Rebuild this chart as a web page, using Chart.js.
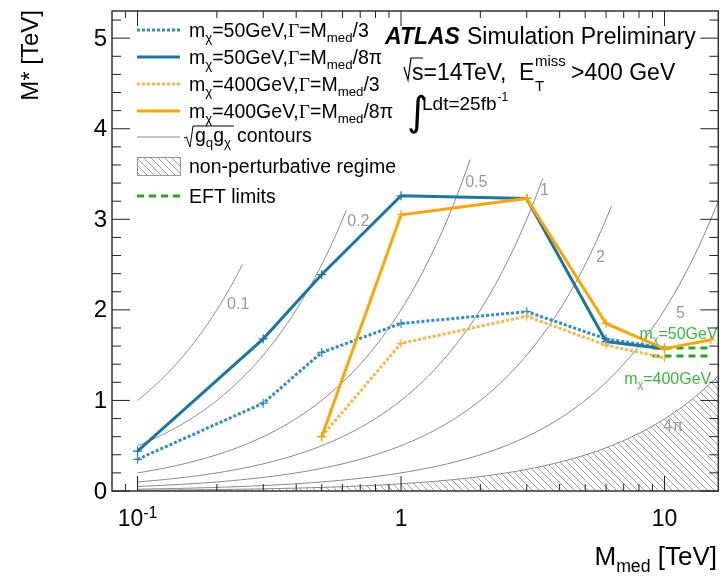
<!DOCTYPE html>
<html>
<head>
<meta charset="utf-8">
<script src="https://cdn.jsdelivr.net/npm/chart.js@4"></script>
<style>
html, body { margin: 0; padding: 0; background: #fff; }
#wrap { width: 724px; height: 579px; }
</style>
</head>
<body>
<div id="wrap"><canvas id="c" width="724" height="579"></canvas></div>
<script>
const FONT = '"Liberation Sans", Arial, Helvetica, sans-serif';

// mediator masses [TeV]
const mMedLight = [0.1, 0.3, 0.5, 1, 3, 6, 10];
const mMedHeavy = [0.5, 1, 3, 6, 10];
const mMedHeavyNarrow = [0.5, 1, 3, 6, 10, 15];

// M* limits [TeV]
const lightWide   = [0.35, 0.97, 1.53, 1.85, 1.98, 1.68, 1.58];
const lightNarrow = [0.44, 1.68, 2.39, 3.26, 3.23, 1.65, 1.57];
const heavyWide   = [0.60, 1.63, 1.93, 1.61, 1.47];
const heavyNarrow = [0.60, 3.05, 3.23, 1.85, 1.57, 1.67];

// EFT limits
const eftRange = [9, 15];
const eftLight = 1.58;
const eftHeavy = 1.49;

// sqrt(gq gchi) contours: M* = Mmed / g
const couplings     = [0.1, 0.2, 0.5, 1, 2, 5];
const couplingNames = ['0.1', '0.2', '0.5', '1', '2', '5', '4π'];
const contourEnd    = [0.25, 0.62, 1.83, 3.45, 6.3, 16];
const contourLabelX = [0.241, 0.689, 1.93, 3.50, 5.71, 11.5, 10.8];
const contourLabelY = [2.06, 2.97, 3.40, 3.32, 2.58, 1.96, 0.71];
const gMax = 4 * Math.PI;

// axis ticks
const xTicksMajor = [0.1, 1, 10];
const xTickLabels = [['10', '-1'], ['1', ''], ['10', '']];
const xTicksMinor = [0.09, 0.2, 0.3, 0.4, 0.5, 0.6, 0.7, 0.8, 0.9, 2, 3, 4, 5, 6, 7, 8, 9];
const yTicksMajor = [0, 1, 2, 3, 4, 5];
const yTicksMinor = [0.2, 0.4, 0.6, 0.8, 1.2, 1.4, 1.6, 1.8, 2.2, 2.4, 2.6, 2.8,
                     3.2, 3.4, 3.6, 3.8, 4.2, 4.4, 4.6, 4.8, 5.2];

const BLUE = '#1877a6', BLUE_DOT = '#2f8fc4';
const ORANGE = '#ffa500', ORANGE_DOT = '#ffb546';
const GREEN = '#1faa1f', GREEN_TXT = '#3cb83c';
const GRAY = '#8a8a8a';

const canvas = document.getElementById('c');
const ctx0 = canvas.getContext('2d');

// hatch pattern for the non-perturbative region
const pc = document.createElement('canvas');
pc.width = pc.height = 7;
const pctx = pc.getContext('2d');
pctx.strokeStyle = '#a0a0a0'; pctx.lineWidth = 1;
pctx.beginPath();
pctx.moveTo(-1, -1); pctx.lineTo(8, 8);
pctx.moveTo(-1, 6); pctx.lineTo(1, 8);
pctx.moveTo(6, -1); pctx.lineTo(8, 1);
pctx.stroke();
const hatch = ctx0.createPattern(pc, 'repeat');

function contourPoints(g, xEnd) {
  const pts = [], n = 60;
  for (let i = 0; i <= n; i++) {
    const m = 0.1 * Math.pow(xEnd / 0.1, i / n);
    pts.push({ x: m, y: m / g });
  }
  return pts;
}

function series(xs, ys, color, dotted, order) {
  return {
    data: xs.map((x, i) => ({ x, y: ys[i] })),
    borderColor: color, backgroundColor: color,
    borderWidth: 3, borderDash: dotted ? [3, 2] : [],
    pointStyle: 'cross', pointRadius: 4.5, pointBorderWidth: 1.2,
    pointBorderColor: color, fill: false, tension: 0, order
  };
}

const datasets = [
  series(mMedHeavyNarrow, heavyNarrow, ORANGE, false, 1),
  series(mMedHeavy, heavyWide, ORANGE_DOT, true, 2),
  series(mMedLight, lightNarrow, BLUE, false, 3),
  series(mMedLight, lightWide, BLUE_DOT, true, 4),
  { data: eftRange.map(x => ({ x, y: eftLight })), borderColor: GREEN, borderWidth: 3,
    borderDash: [7, 5], pointRadius: 0, fill: false, order: 5 },
  { data: eftRange.map(x => ({ x, y: eftHeavy })), borderColor: GREEN, borderWidth: 3,
    borderDash: [7, 5], pointRadius: 0, fill: false, order: 6 },
  ...couplings.map((g, i) => ({
    data: contourPoints(g, contourEnd[i]), borderColor: GRAY, borderWidth: 1,
    pointRadius: 0, fill: false, order: 10 + i
  })),
  { data: contourPoints(gMax, 16), borderColor: GRAY, borderWidth: 1, pointRadius: 0,
    fill: 'origin', backgroundColor: hatch, order: 30 }
];

// text with sub/superscripts: parts = [text, kind]
function rich(ctx, x, y, parts, size, color) {
  ctx.fillStyle = color; ctx.textAlign = 'left'; ctx.textBaseline = 'alphabetic';
  for (const [t, kind] of parts) {
    let s = size, dy = 0, f = FONT;
    if (kind === 'sub') { s = size * 0.68; dy = size * 0.28; }
    else if (kind === 'sup') { s = size * 0.68; dy = -size * 0.42; }
    else if (kind === 'serif') { f = '"Liberation Serif", serif'; }
    ctx.font = s + 'px ' + f;
    ctx.fillText(t, x, y + dy);
    x += ctx.measureText(t).width;
  }
  return x;
}

const legendRows = [
  { type: 'line', color: BLUE_DOT, dash: [3, 2], width: 3, text: [['m'], ['χ', 'sub'], ['=50GeV,'], ['Γ', 'serif'], ['=M'], ['med', 'sub'], ['/3']] },
  { type: 'line', color: BLUE, dash: [], width: 3, text: [['m'], ['χ', 'sub'], ['=50GeV,'], ['Γ', 'serif'], ['=M'], ['med', 'sub'], ['/8π']] },
  { type: 'line', color: ORANGE_DOT, dash: [3, 2], width: 3, text: [['m'], ['χ', 'sub'], ['=400GeV,'], ['Γ', 'serif'], ['=M'], ['med', 'sub'], ['/3']] },
  { type: 'line', color: ORANGE, dash: [], width: 3, text: [['m'], ['χ', 'sub'], ['=400GeV,'], ['Γ', 'serif'], ['=M'], ['med', 'sub'], ['/8π']] },
  { type: 'line', color: GRAY, dash: [], width: 1, text: null },
  { type: 'box', text: [['non-perturbative regime']] },
  { type: 'line', color: GREEN, dash: [7, 5], width: 3, text: [['EFT limits']] }
];
const legendY = [30, 57, 84, 111, 137, 166, 196];

const rootStyle = {
  id: 'rootStyle',
  afterDraw(chart) {
    const { ctx, chartArea: a, scales: { x, y } } = chart;
    ctx.save();

    // contour labels
    ctx.font = '16px ' + FONT; ctx.fillStyle = '#9a9a9a';
    ctx.textAlign = 'center'; ctx.textBaseline = 'middle';
    couplingNames.forEach((n, i) => {
      ctx.fillText(n, x.getPixelForValue(contourLabelX[i]), y.getPixelForValue(contourLabelY[i]));
    });

    // EFT labels
    rich(ctx, x.getPixelForValue(8.03), y.getPixelForValue(1.75) + 6,
      [['m'], ['χ', 'sub'], ['=50GeV']], 16, GREEN_TXT);
    rich(ctx, x.getPixelForValue(7.03), y.getPixelForValue(1.25) + 6,
      [['m'], ['χ', 'sub'], ['=400GeV']], 16, GREEN_TXT);

    // frame
    ctx.strokeStyle = '#333'; ctx.lineWidth = 1.5; ctx.setLineDash([]);
    ctx.strokeRect(a.left, a.top, a.right - a.left, a.bottom - a.top);

    // inward ticks
    ctx.lineWidth = 1; ctx.strokeStyle = '#222';
    ctx.beginPath();
    const tx = (v, len) => {
      const p = x.getPixelForValue(v);
      ctx.moveTo(p, a.bottom); ctx.lineTo(p, a.bottom - len);
      ctx.moveTo(p, a.top); ctx.lineTo(p, a.top + len);
    };
    const ty = (v, len) => {
      const p = y.getPixelForValue(v);
      ctx.moveTo(a.left, p); ctx.lineTo(a.left + len, p);
      ctx.moveTo(a.right, p); ctx.lineTo(a.right - len, p);
    };
    xTicksMajor.forEach(v => tx(v, 15));
    xTicksMinor.forEach(v => tx(v, 7));
    yTicksMajor.forEach(v => ty(v, 18));
    yTicksMinor.forEach(v => ty(v, 9));
    ctx.stroke();

    // tick labels
    ctx.fillStyle = '#000';
    ctx.font = '24px ' + FONT; ctx.textAlign = 'right'; ctx.textBaseline = 'middle';
    yTicksMajor.forEach(v => ctx.fillText(String(v), a.left - 5, y.getPixelForValue(v) + 1));
    ctx.textAlign = 'left'; ctx.textBaseline = 'alphabetic';
    xTicksMajor.forEach((v, i) => {
      const [main, sup] = xTickLabels[i];
      ctx.font = '23px ' + FONT; const w1 = ctx.measureText(main).width;
      ctx.font = '16px ' + FONT; const w2 = sup ? ctx.measureText(sup).width : 0;
      const sx = x.getPixelForValue(v) - (w1 + w2) / 2;
      ctx.font = '23px ' + FONT; ctx.fillText(main, sx, a.bottom + 35);
      if (sup) { ctx.font = '16px ' + FONT; ctx.fillText(sup, sx + w1, a.bottom + 27); }
    });

    // axis titles
    ctx.save();
    ctx.translate(38, 10); ctx.rotate(-Math.PI / 2);
    ctx.font = '24px ' + FONT; ctx.textAlign = 'right'; ctx.fillText('M* [TeV]', 0, 0);
    ctx.restore();
    const ts = 26;
    ctx.font = ts + 'px ' + FONT;
    const wT = ctx.measureText(' [TeV]').width, wM = ctx.measureText('M').width;
    ctx.font = (ts * 0.68) + 'px ' + FONT; const wS = ctx.measureText('med').width;
    rich(ctx, 717 - wT - wM - wS, 565, [['M'], ['med', 'sub'], [' [TeV]']], ts, '#000');

    // legend
    legendRows.forEach((r, i) => {
      const cy = legendY[i];
      if (r.type === 'line') {
        ctx.strokeStyle = r.color; ctx.lineWidth = r.width; ctx.setLineDash(r.dash);
        ctx.beginPath(); ctx.moveTo(137, cy); ctx.lineTo(180, cy); ctx.stroke();
        ctx.setLineDash([]);
      } else {
        ctx.fillStyle = hatch; ctx.fillRect(137, cy - 9, 43, 18);
        ctx.strokeStyle = '#999'; ctx.lineWidth = 1; ctx.strokeRect(137.5, cy - 8.5, 43, 18);
      }
      if (r.text) rich(ctx, 189, cy + 7, r.text, 19.5, '#000');
    });
    // sqrt(gq gchi) row
    {
      const cy = legendY[4];
      ctx.strokeStyle = '#000'; ctx.lineWidth = 1;
      ctx.beginPath();
      ctx.moveTo(184, cy + 1); ctx.lineTo(186.5, cy); ctx.lineTo(190, cy + 10);
      ctx.lineTo(193, cy - 11); ctx.lineTo(234, cy - 11); ctx.stroke();
      const xe = rich(ctx, 195, cy + 5, [['g'], ['q', 'sub'], ['g'], ['χ', 'sub']], 19.5, '#000');
      rich(ctx, xe + 6, cy + 5, [['contours']], 19.5, '#000');
    }

    // ATLAS label
    ctx.fillStyle = '#000'; ctx.textAlign = 'left'; ctx.textBaseline = 'alphabetic';
    ctx.font = 'italic bold 23px ' + FONT; ctx.fillText('ATLAS', 385, 44);
    ctx.font = '23px ' + FONT; ctx.fillText('Simulation Preliminary', 467, 44);
    // sqrt(s) line
    ctx.strokeStyle = '#000'; ctx.lineWidth = 1.2;
    ctx.beginPath(); ctx.moveTo(404, 67); ctx.lineTo(408, 80); ctx.lineTo(411, 58); ctx.lineTo(423, 58); ctx.stroke();
    rich(ctx, 412, 80, [['s=14TeV,']], 23, '#000');
    rich(ctx, 519, 80, [['E']], 23, '#000');
    ctx.font = '15px ' + FONT; ctx.fillText('miss', 535, 66); ctx.fillText('T', 535, 91);
    rich(ctx, 571, 80, [['>400 GeV']], 23, '#000');
    // integrated luminosity
    ctx.font = '40px "DejaVu Sans", sans-serif'; ctx.fillText('∫', 407, 125);
    const xe = rich(ctx, 422, 110, [['Ldt=25fb']], 19, '#000');
    ctx.font = '12px ' + FONT; ctx.fillText('-1', xe + 1, 101);

    ctx.restore();
  }
};

new Chart(canvas, {
  type: 'line',
  data: { datasets },
  options: {
    responsive: false, animation: false, devicePixelRatio: 1,
    layout: { padding: { top: 11, right: 5, left: 0, bottom: 0 } },
    scales: {
      x: { type: 'logarithmic', min: 0.08, max: 16,
           ticks: { display: false }, grid: { display: false }, border: { display: false },
           afterFit(s) { s.height = 88; } },
      y: { type: 'linear', min: 0, max: 5.3,
           ticks: { display: false }, grid: { display: false }, border: { display: false },
           afterFit(s) { s.width = 112; } }
    },
    plugins: { legend: { display: false }, tooltip: { enabled: false } }
  },
  plugins: [rootStyle]
});
</script>
</body>
</html>
